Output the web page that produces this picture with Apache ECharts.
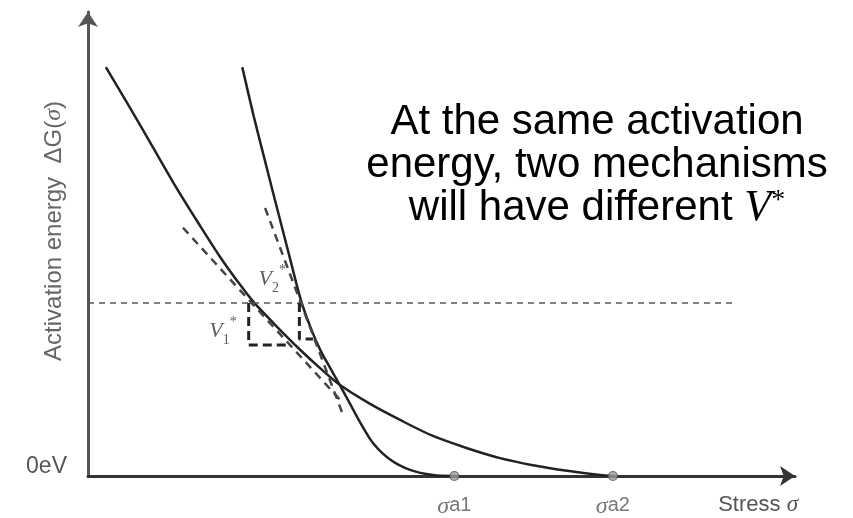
<!DOCTYPE html>
<html><head><meta charset="utf-8">
<script src="https://cdn.jsdelivr.net/npm/echarts@6/dist/echarts.min.js"></script>
<style>html,body{margin:0;padding:0;background:#fff}#c{width:853px;height:518px}</style>
</head><body><div id="c"></div>
<script>
// Schematic units: stress (x) and activation energy (y)
const mech1Stress = [2.5, 7.3, 11.9, 15.7, 18.5, 20.9, 23.2, 26.2, 29.7, 32.5, 35.3, 39.5, 43.7, 48.3, 53.1, 57.7, 62.3, 67.1, 71.7, 73.5];
const mech1Energy = [86.8, 74.5, 62.4, 53.1, 46.5, 41.4, 36.9, 32.1, 26.8, 22.9, 19.3, 15.3, 11.9, 8.5, 5.9, 3.8, 2.3, 1.1, 0.2, 0];
const mech2Stress = [21.6, 23.2, 24.9, 26.6, 28.3, 29.8, 31.2, 32.6, 34.0, 35.4, 36.7, 38.1, 39.9, 42.3, 45.1, 48.3, 51.3];
const mech2Energy = [86.8, 76.4, 66.2, 56.1, 46.1, 37.4, 31.4, 26.5, 22.7, 18.9, 15.3, 11.4, 7.0, 3.5, 1.3, 0.2, 0];
const tangent1Stress = [13.3, 35.7];
const tangent1Energy = [52.7, 15.5];
const tangent2Stress = [24.8, 35.7];
const tangent2Energy = [56.9, 13.0];
const levelStress = [0, 90.6];
const levelEnergy = [36.7, 36.7];
const triangle1Stress = [22.5, 22.5, 28.2];
const triangle1Energy = [36.7, 27.8, 27.8];
const triangle2Stress = [29.6, 29.6, 31.5];
const triangle2Energy = [36.7, 29.1, 29.1];
const athermalStress = [51.3, 73.5];
const athermalNames = ['a1', 'a2'];
const volumeNames = ['2', '1'];
const volumeAnchorStress = [25.8, 18.9];
const volumeAnchorEnergy = [41.8, 30.8];
const zeroLabel = '0eV';
const xName = 'Stress';
const yName = 'Activation energy';
const noteLines = ['At the same activation', 'energy, two mechanisms', 'will have different'];

const zip = (a, b) => a.map((v, i) => [v, b[i]]);
const SANS = 'Liberation Sans';
const SERIF = 'Liberation Serif';

const chart = echarts.init(document.getElementById('c'), null, {renderer: 'canvas'});
const arrowLine = color => ({
  show: true,
  lineStyle: {color: color, width: 3},
  symbol: ['none', 'arrow'],
  symbolSize: [15, 15]
});
chart.setOption({
  animation: false,
  backgroundColor: '#fff',
  title: {
    text: noteLines[0] + '\n' + noteLines[1] + '\n' + noteLines[2] + ' {v|V}{st|*}',
    left: 597, top: 101, textAlign: 'center', padding: 0,
    textStyle: {
      fontFamily: SANS, fontSize: 42, lineHeight: 43, fontWeight: 'normal', color: '#000',
      rich: {
        v: {fontFamily: SERIF, fontStyle: 'italic', fontSize: 44, lineHeight: 43, color: '#000'},
        st: {fontFamily: SERIF, fontSize: 28, lineHeight: 30, verticalAlign: 'top', color: '#000'}
      }
    }
  },
  grid: {left: 88, right: 58, top: 12, bottom: 42, containLabel: false, outerBoundsMode: 'none'},
  xAxis: {
    type: 'value', min: 0, max: 99,
    axisLine: arrowLine('#333'), axisTick: {show: false}, axisLabel: {show: false}, splitLine: {show: false},
    name: xName + ' {s|σ}', nameLocation: 'end', nameGap: 3, nameMoveOverlap: false,
    nameTextStyle: {
      fontFamily: SANS, fontSize: 22, lineHeight: 22, color: '#555', align: 'right', verticalAlign: 'top',
      padding: [18, 0, 0, 0],
      rich: {s: {fontFamily: SERIF, fontStyle: 'italic', fontSize: 23, lineHeight: 22, color: '#555'}}
    }
  },
  yAxis: {
    type: 'value', min: 0, max: 98.5,
    axisLine: arrowLine('#555'), axisTick: {show: false}, splitLine: {show: false},
    axisLabel: {
      show: true, formatter: v => (v === 0 ? zeroLabel : ''), color: '#555', fontFamily: SANS,
      fontSize: 23, lineHeight: 18, margin: 21, verticalAlign: 'bottom'
    },
    name: yName + '  ΔG({s|σ})', nameLocation: 'middle', nameRotate: 90, nameGap: 22, nameMoveOverlap: false,
    nameTextStyle: {
      fontFamily: SANS, fontSize: 24, color: '#666', padding: [0, 0, 0, 26],
      rich: {s: {fontFamily: SERIF, fontStyle: 'italic', fontSize: 24, color: '#666'}}
    }
  },
  series: [
    {type: 'line', data: zip(mech1Stress, mech1Energy), showSymbol: false, smooth: 0.3,
     lineStyle: {color: '#222', width: 2.5}, z: 3},
    {type: 'line', data: zip(mech2Stress, mech2Energy), showSymbol: false, smooth: 0.3,
     lineStyle: {color: '#222', width: 2.5}, z: 3},
    {type: 'line', data: zip(tangent1Stress, tangent1Energy), showSymbol: false,
     lineStyle: {color: '#444', width: 2.5, type: [8, 6]}},
    {type: 'line', data: zip(tangent2Stress, tangent2Energy), showSymbol: false,
     lineStyle: {color: '#444', width: 2.5, type: [8, 6]}},
    {type: 'line', data: zip(levelStress, levelEnergy), showSymbol: false,
     lineStyle: {color: '#555', width: 1.5, type: [6, 5]}},
    {type: 'line', data: zip(triangle1Stress, triangle1Energy), showSymbol: false,
     lineStyle: {color: '#222', width: 3, type: [9, 5]}},
    {type: 'line', data: zip(triangle2Stress, triangle2Energy), showSymbol: false,
     lineStyle: {color: '#222', width: 3, type: [9, 5]}},
    {type: 'scatter', data: athermalStress.map((x, i) => ({value: [x, 0], name: athermalNames[i]})),
     symbol: 'circle', symbolSize: 9, z: 5,
     itemStyle: {color: '#999', borderColor: '#555', borderWidth: 1.2},
     label: {
       show: true, position: 'bottom', distance: 14, color: '#555',
       formatter: p => '{s|σ}{sub|' + p.name + '}',
       rich: {
         s: {fontFamily: SERIF, fontStyle: 'italic', fontSize: 24, lineHeight: 14, verticalAlign: 'top', color: '#555'},
         sub: {fontFamily: SANS, fontSize: 20, lineHeight: 28, verticalAlign: 'top', color: '#555'}
       }
     }},
    {type: 'scatter', data: volumeAnchorStress.map((x, i) => ({value: [x, volumeAnchorEnergy[i]], name: volumeNames[i]})),
     symbolSize: 0, z: 6, silent: true,
     label: {
       show: true, position: 'inside', color: '#333',
       formatter: p => '{v|V}{sub|' + p.name + '}{sup|*}',
       rich: {
         v: {fontFamily: SERIF, fontStyle: 'italic', fontSize: 22, lineHeight: 32, color: '#333'},
         sub: {fontFamily: SERIF, fontSize: 14, lineHeight: 14, verticalAlign: 'bottom', color: '#333'},
         sup: {fontFamily: SERIF, fontSize: 14, lineHeight: 14, verticalAlign: 'top', color: '#333'}
       }
     }}
  ]
});
</script></body></html>
